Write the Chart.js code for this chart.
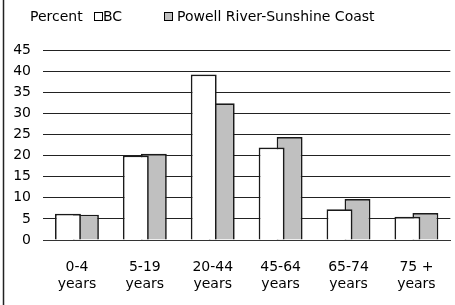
<!DOCTYPE html>
<html>
<head>
<meta charset="utf-8">
<script src="https://cdn.jsdelivr.net/npm/chart.js@4/dist/chart.umd.min.js"></script>
<style>
html,body{margin:0;padding:0;background:#fff;}
#wrap{width:455px;height:305px;}
</style>
</head>
<body>
<div id="wrap"><canvas id="c" width="455" height="305"></canvas></div>
<script>
const categories = [['0-4','years'],['5-19','years'],['20-44','years'],['45-64','years'],['65-74','years'],['75 +','years']];
const seriesNames = ['BC','Powell River-Sunshine Coast'];
const bcValues = [6.2, 20.0, 39.2, 21.9, 7.3, 5.5];
const prscValues = [6.0, 20.4, 32.4, 24.4, 9.7, 6.4];
const yTicks = [0,5,10,15,20,25,30,35,40,45];
const yTitle = 'Percent';

const FONT = '"DejaVu Sans", "Liberation Sans", Arial, sans-serif';

const legendPlugin = {
  id: 'customLegend',
  afterDraw(chart) {
    const ctx = chart.ctx;
    ctx.save();
    // left frame line
    ctx.strokeStyle = '#222';
    ctx.lineWidth = 1.5;
    ctx.beginPath();
    ctx.moveTo(3.5, 0);
    ctx.lineTo(3.5, 305);
    ctx.stroke();
    ctx.font = '14px ' + FONT;
    ctx.fillStyle = '#000';
    ctx.textBaseline = 'alphabetic';
    ctx.textAlign = 'left';
    ctx.fillText(yTitle, 30, 21);
    const boxX = [94.5, 164.5];
    const textX = [103, 177];
    chart.data.datasets.forEach((ds, i) => {
      ctx.fillStyle = ds.backgroundColor;
      ctx.fillRect(boxX[i], 12.5, 8, 8);
      ctx.strokeStyle = '#000';
      ctx.lineWidth = 1;
      ctx.strokeRect(boxX[i], 12.5, 8, 8);
      ctx.fillStyle = '#000';
      ctx.fillText(ds.label, textX[i], 21);
    });
    ctx.restore();
  }
};

new Chart(document.getElementById('c'), {
  type: 'bar',
  data: {
    labels: categories,
    datasets: [
      { label: seriesNames[0], data: bcValues, backgroundColor: '#ffffff', borderColor: '#1a1a1a', borderWidth: 1.7 },
      { label: seriesNames[1], data: prscValues, backgroundColor: '#c0c0c0', borderColor: '#1a1a1a', borderWidth: 1.7 }
    ]
  },
  options: {
    responsive: false,
    animation: false,
    devicePixelRatio: 1,
    categoryPercentage: 0.53,
    barPercentage: 1.44,
    layout: { padding: { top: 50, right: 4, left: 0, bottom: 0 } },
    plugins: { legend: { display: false }, tooltip: { enabled: false } },
    scales: {
      x: {
        grid: { display: false, drawTicks: false },
        border: { display: true, color: '#333', width: 1 },
        ticks: { color: '#000', font: { family: FONT, size: 14, lineHeight: 1.2 }, padding: 19, maxRotation: 0, autoSkip: false },
        afterFit(scale) { scale.height = 65; }
      },
      y: {
        min: 0, max: 45,
        afterBuildTicks(scale) { scale.ticks = yTicks.map(v => ({ value: v })); },
        grid: { color: '#222', lineWidth: 1, drawTicks: false },
        border: { display: false },
        ticks: { color: '#000', font: { family: FONT, size: 14 }, padding: 12 },
        afterFit(scale) { scale.width = 43; }
      }
    }
  },
  plugins: [legendPlugin]
});
</script>
</body>
</html>
